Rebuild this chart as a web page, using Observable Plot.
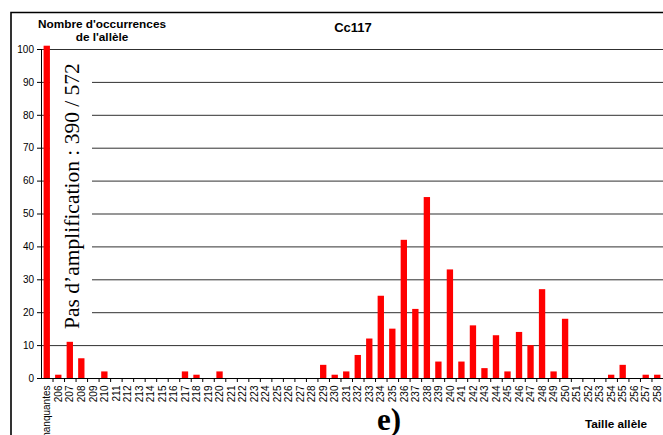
<!DOCTYPE html>
<html>
<head>
<meta charset="utf-8">
<script src="https://cdn.jsdelivr.net/npm/d3@7"></script>
<script src="https://cdn.jsdelivr.net/npm/@observablehq/plot@0.6"></script>
<style>
  html, body { margin: 0; padding: 0; background: #fff; }
  #wrap { position: relative; width: 663px; height: 435px; overflow: hidden; background: #fff; }
  #wrap > * { position: absolute; left: 0; top: 0; }
  #note {
    left: -70px; top: 175px; width: 282px; height: 42px;
    transform: rotate(-90deg); background: #fff;
    font-family: "Liberation Serif", "Times New Roman", serif; font-size: 21.5px;
    line-height: 42px; text-align: center; white-space: nowrap; color: #000;
    padding-top: 1px; box-sizing: border-box;
  }
  g[aria-label="x-axis tick label"] { font-size: 10px; }
  g[aria-label="y-axis tick label"] { font-size: 10px; }
</style>
</head>
<body>
<div id="wrap"></div>
<script>
// ---- data ----
const categories = ["manquantes","206","207","208","209","210","211","212","213","214","215","216","217","218","219","220","221","222","223","224","225","226","227","228","229","230","231","232","233","234","235","236","237","238","239","240","241","242","243","244","245","246","247","248","249","250","251","252","253","254","255","256","257","258"];
const counts = [101,1,11,6,0,2,0,0,0,0,0,0,2,1,0,2,0,0,0,0,0,0,0,0,4,1,2,7,12,25,15,42,21,55,5,33,5,16,3,13,2,14,10,27,2,18,0,0,0,1,4,0,1,1];
const yTicks = [0,10,20,30,40,50,60,70,80,90,100];
const title = "Cc117";
const yTitle = ["Nombre d'occurrences", "de l'allèle"];
const xTitle = "Taille allèle";
const note = "Pas d’amplification : 390 / 572";
const panel = "e)";

const data = categories.map((c, i) => ({allele: c, count: counts[i]}));

const W = 663, H = 435, mL = 41, mR = 0, mT = 49, mB = 57;
const halfStep = (W - mL - mR) / categories.length / 2;

const chart = Plot.plot({
  width: W, height: H,
  marginLeft: mL, marginRight: mR, marginTop: mT, marginBottom: mB,
  style: {fontFamily: "'Liberation Sans', Arial, sans-serif", background: "transparent", color: "#000", overflow: "visible"},
  x: {domain: categories, paddingInner: 0.45, paddingOuter: 0.225, round: false, label: null},
  y: {domain: [0, 100], label: null},
  marks: [
    Plot.gridY(yTicks, {stroke: "#1a1a1a", strokeOpacity: 0.9}),
    Plot.barY(data, {x: "allele", y: "count", fill: "#ff0000"}),
    Plot.axisY(yTicks, {tickSize: 4, tickPadding: 3.5, fontSize: 10, label: null}),
    Plot.axisX({tickRotate: -90, tickSize: 0, tickPadding: 7, fontSize: 10, label: null}),
    Plot.axisX({tickSize: 4, tickFormat: () => "", dx: halfStep, label: null}),
    Plot.ruleY([0], {stroke: "#000"}),
    Plot.frame({anchor: "left", stroke: "#000"})
  ]
});

const wrap = document.getElementById("wrap");
wrap.appendChild(chart);

const noteDiv = document.createElement("div");
noteDiv.id = "note";
noteDiv.textContent = note;
wrap.appendChild(noteDiv);

// overlay: titles and frame
const svg = d3.create("svg").attr("width", W).attr("height", H)
  .style("font-family", "'Liberation Sans', Arial, sans-serif");
svg.append("path").attr("d", `M11,${H}V12.5H${W}`).attr("fill", "none").attr("stroke", "#000").attr("stroke-width", 1.6);
svg.append("text").attr("x", 353).attr("y", 31.5).attr("text-anchor", "middle")
  .attr("font-weight", "bold").attr("font-size", 13).text(title);
svg.append("text").attr("x", 102).attr("y", 28).attr("text-anchor", "middle")
  .attr("font-weight", "bold").attr("font-size", 11.8).text(yTitle[0]);
svg.append("text").attr("x", 102).attr("y", 41).attr("text-anchor", "middle")
  .attr("font-weight", "bold").attr("font-size", 11.8).text(yTitle[1]);
svg.append("text").attr("x", 616).attr("y", 428).attr("text-anchor", "middle")
  .attr("font-weight", "bold").attr("font-size", 11.8).text(xTitle);
svg.append("text").attr("x", 389).attr("y", 430).attr("text-anchor", "middle")
  .attr("font-family", "'Liberation Serif', 'Times New Roman', serif")
  .attr("font-weight", "bold").attr("font-size", 31).text(panel);
wrap.appendChild(svg.node());
</script>
</body>
</html>
